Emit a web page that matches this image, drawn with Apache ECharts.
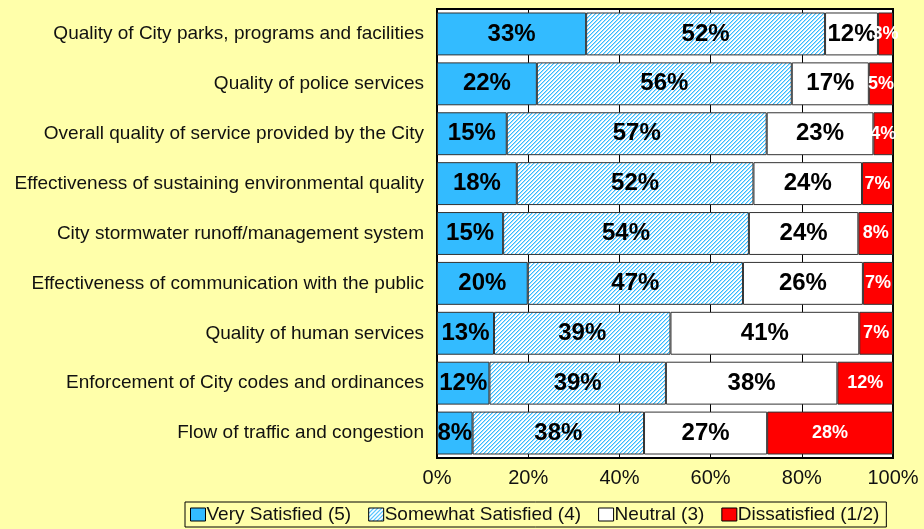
<!DOCTYPE html>
<html>
<head>
<meta charset="utf-8">
<script src="https://cdn.jsdelivr.net/npm/echarts@6/dist/echarts.min.js"></script>
<style>
  html, body { margin: 0; padding: 0; background: #ffffaa; }
  #chart-container { width: 924px; height: 529px; }
</style>
</head>
<body>
<div id="chart-container"></div>
<script>
var categories = [
  'Quality of City parks, programs and facilities',
  'Quality of police services',
  'Overall quality of service provided by the City',
  'Effectiveness of sustaining environmental quality',
  'City stormwater runoff/management system',
  'Effectiveness of communication with the public',
  'Quality of human services',
  'Enforcement of City codes and ordinances',
  'Flow of traffic and congestion'
];
var seriesNames = ['Very Satisfied (5)', 'Somewhat Satisfied (4)', 'Neutral (3)', 'Dissatisfied (1/2)'];
var verySatisfied = [32.7, 21.9, 15.3, 17.5, 14.5, 19.9, 12.5, 11.5, 7.8];
var somewhatSatisfied = [52.4, 55.9, 57.0, 51.9, 53.9, 47.2, 38.7, 38.7, 37.6];
var neutral = [11.6, 16.9, 23.4, 23.8, 24.0, 26.3, 41.4, 37.6, 27.0];
var dissatisfied = [3.3, 5.3, 4.3, 6.8, 7.6, 6.6, 7.4, 12.2, 27.6];
var xTicks = [0, 20, 40, 60, 80, 100];

var font = 'Arial, "Liberation Sans", sans-serif';

// diagonal hatch for "somewhat satisfied"
var hatch = document.createElement('canvas');
hatch.width = 4;
hatch.height = 4;
var ctx = hatch.getContext('2d');
ctx.fillStyle = '#ffffff';
ctx.fillRect(0, 0, 4, 4);
for (var x = 0; x < 4; x++) {
  for (var y = 0; y < 4; y++) {
    var k = (x + y) % 4;
    if (k === 0) { ctx.fillStyle = '#33bbff'; ctx.fillRect(x, y, 1, 1); }
    if (k === 1) { ctx.fillStyle = '#a8e0ff'; ctx.fillRect(x, y, 1, 1); }
  }
}

var dom = document.getElementById('chart-container');
var myChart = echarts.init(dom, null, { renderer: 'canvas' });

function pct(p) { return Math.round(p.value) + '%'; }

var darkLabel = {
  show: true,
  position: 'inside',
  formatter: pct,
  color: '#000',
  fontFamily: font,
  fontWeight: 'bold',
  fontSize: 24
};

function makeSeries(name, data, color, label) {
  return {
    name: name,
    type: 'bar',
    stack: 'total',
    data: data,
    barCategoryGap: '14%',
    itemStyle: { color: color, borderColor: '#333', borderWidth: 1 },
    label: label,
    emphasis: { disabled: true }
  };
}

var option = {
  backgroundColor: '#ffffaa',
  animation: false,
  textStyle: { fontFamily: font },
  grid: {
    left: 437,
    right: 31,
    top: 9,
    bottom: 71,
    show: true,
    backgroundColor: '#ffffff',
    borderColor: '#000',
    borderWidth: 2
  },
  legend: {
    left: 185,
    top: 502,
    itemWidth: 15,
    itemHeight: 13,
    itemGap: 17,
    padding: [3, 7, 3, 5],
    borderColor: '#000',
    borderWidth: 1,
    icon: 'rect',
    textStyle: { fontFamily: font, fontSize: 19, color: '#111', padding: [0, 0, 0, -4] },
    itemStyle: { borderColor: '#000', borderWidth: 1 },
    data: seriesNames
  },
  xAxis: {
    type: 'value',
    min: 0,
    max: 100,
    interval: 20,
    axisLine: { show: true, lineStyle: { color: '#000', width: 2 } },
    axisTick: { show: false },
    splitLine: { show: true, lineStyle: { color: '#000', width: 1 } },
    axisLabel: {
      margin: 10,
      fontFamily: font,
      fontSize: 20,
      color: '#111',
      formatter: function (v) { return xTicks.indexOf(v) >= 0 ? v + '%' : ''; }
    }
  },
  yAxis: {
    type: 'category',
    inverse: true,
    data: categories,
    axisLine: { show: true, lineStyle: { color: '#000', width: 2 } },
    axisTick: { show: false },
    axisLabel: { margin: 13, fontFamily: font, fontSize: 19, color: '#111' }
  },
  series: [
    makeSeries(seriesNames[0], verySatisfied, '#33bbff', darkLabel),
    makeSeries(seriesNames[1], somewhatSatisfied, { image: hatch, repeat: 'repeat' }, darkLabel),
    makeSeries(seriesNames[2], neutral, '#ffffff', darkLabel),
    makeSeries(seriesNames[3], dissatisfied, '#ff0000', {
      show: true,
      position: 'inside',
      formatter: pct,
      color: '#fff',
      fontFamily: font,
      fontWeight: 'bold',
      fontSize: 18
    })
  ]
};

myChart.setOption(option);
window.addEventListener('resize', myChart.resize);
</script>
</body>
</html>
